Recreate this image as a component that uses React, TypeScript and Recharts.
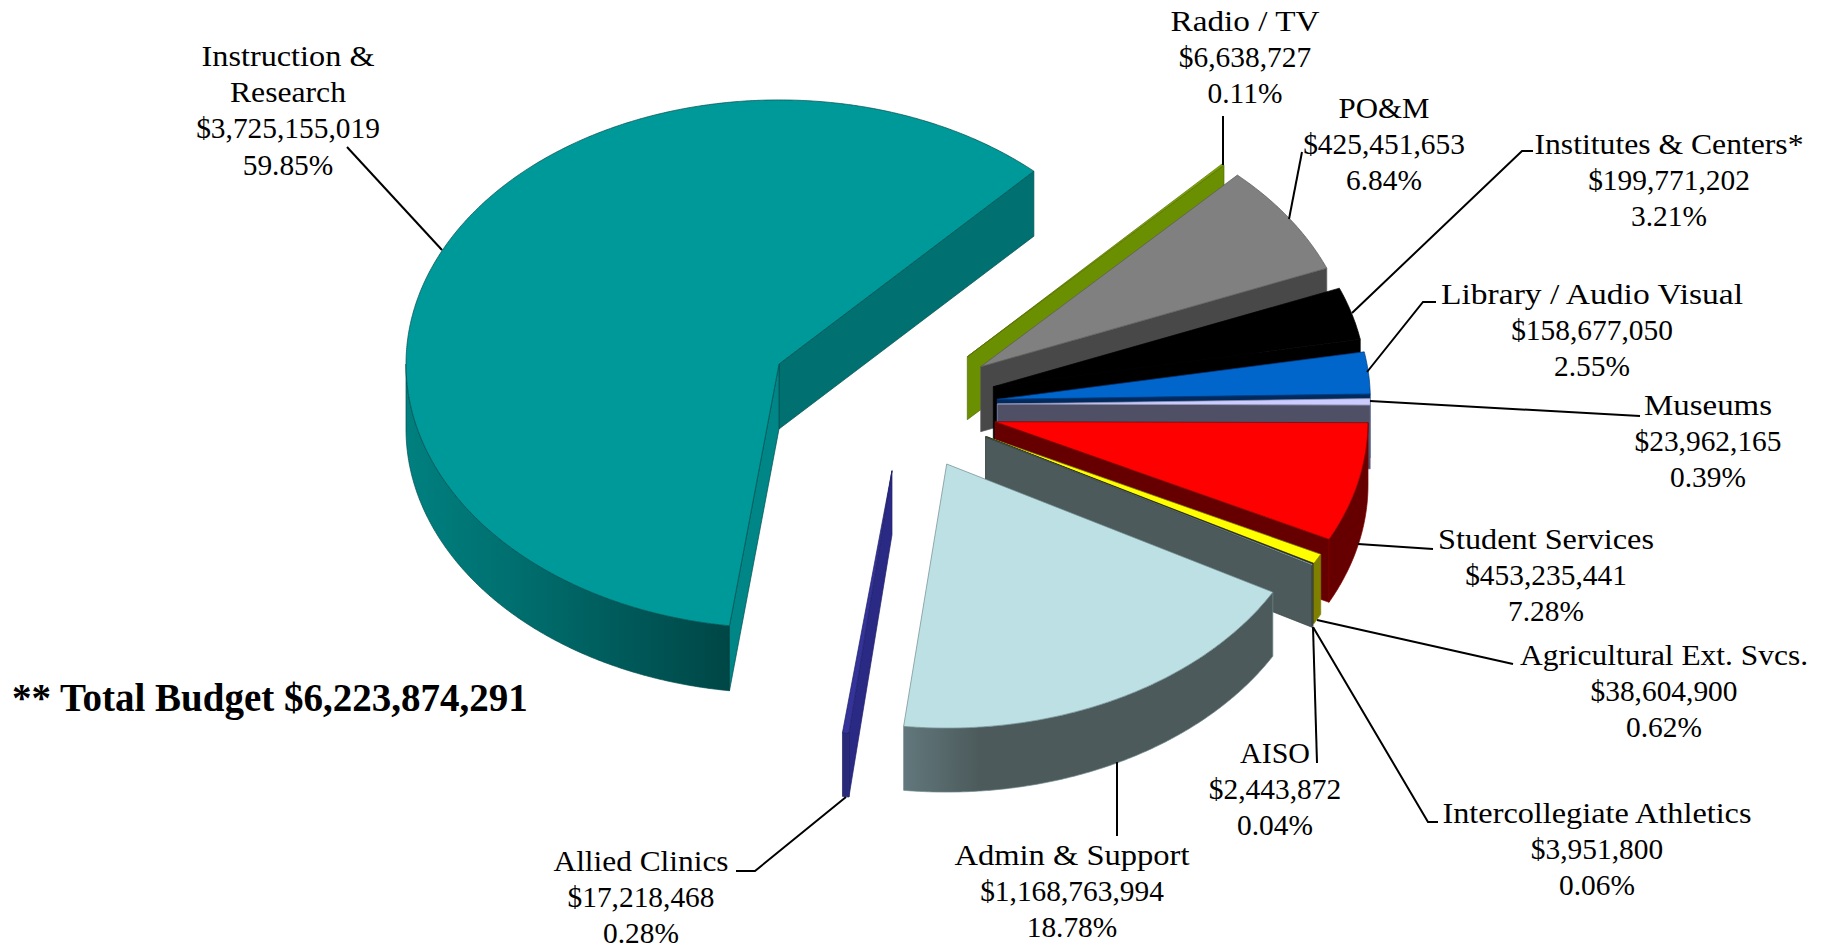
import React from "react";
import { PieChart, Pie } from "recharts";

// budget categories, in the order they run clockwise round the pie
const categories = [
  "Radio / TV",
  "PO&M",
  "Institutes & Centers*",
  "Library / Audio Visual",
  "Museums",
  "Student Services",
  "Agricultural Ext. Svcs.",
  "AISO",
  "Intercollegiate Athletics",
  "Admin & Support",
  "Allied Clinics",
  "Instruction & Research",
];
const amounts = [
  6638727, 425451653, 199771202, 158677050, 23962165, 453235441, 38604900,
  2443872, 3951800, 1168763994, 17218468, 3725155019,
];
const percents = [
  "0.11%", "6.84%", "3.21%", "2.55%", "0.39%", "7.28%", "0.62%", "0.04%",
  "0.06%", "18.78%", "0.28%", "59.85%",
];
const totalLabel = "** Total Budget $6,223,874,291";

const rows = categories.map((name, i) => ({ name, value: amounts[i] }));

// look of each slice
const topColors = ["#7ba600", "#808080", "#000000", "#0066cc", "#ccccff", "#ff0000", "#ffff00", "#3a3a20", "#bde0e4", "#bde0e4", "#333399", "#009999"];
const wallColors = ["#6a8f00", "#484848", "#000000", "#002a5c", "#4f4f66", "#660000", "#808000", "#333333", "#4c5a5b", "#4c5a5b", "#29297a", "#007070"];
const startWallColors: Record<number, string> = { 10: "#2a2a85", 11: "#008686" };
const edgeColors = ["#566f00", "#5a5a5a", "#000000", "#003a80", "#9090b0", "#800000", "#808000", "#222222", "#3c4848", "#6f8a8d", "#20206a", "#004f4f"];

// how far each slice is pulled out of the pie, and its projection
const explodeX = [188.3, 201.7, 214.3, 218.3, 218.3, 216, 207.7, 206.7, 206.7, 167.7, 113, 0];
const explodeY = [-7.3, 2.7, 22.7, 35.3, 40, 57.7, 72.7, 72.7, 73, 100, 106.7, 0];
const squash = 0.708;
const depth = [63, 65, 64, 64, 64, 63, 60, 62, 62, 64, 64, 65];

// label placement: centre x, centre y of first line, stretched width of the name lines
const labelX = [1245, 1384, 1669, 1592, 1708, 1546, 1664, 1275, 1597, 1072, 641, 288];
const labelY = [22, 109, 145, 295, 406, 540, 656, 754, 814, 856, 862, 57];
const nameWidths: Record<string, number> = {
  "Radio / TV": 149,
  "PO&M": 91,
  "Institutes & Centers*": 269,
  "Library / Audio Visual": 302,
  Museums: 128,
  "Student Services": 216,
  "Agricultural Ext. Svcs.": 288,
  AISO: 70,
  "Intercollegiate Athletics": 309,
  "Admin & Support": 235,
  "Allied Clinics": 175,
  "Instruction &": 173,
  Research: 116,
};
const lineGap = 36.2;

const leaders: [number, number][][] = [
  [[1223, 116], [1223, 165]],
  [[1302, 152], [1289, 219]],
  [[1533, 151], [1522, 151], [1352, 313]],
  [[1436, 302], [1423, 302], [1367, 372]],
  [[1370, 401], [1640, 416]],
  [[1358, 544], [1433, 549]],
  [[1317, 620], [1513, 664]],
  [[1313, 627], [1317, 763]],
  [[1313, 627], [1428, 822], [1438, 822]],
  [[1117, 762], [1117, 836]],
  [[846, 797], [755, 871], [736, 871]],
  [[347, 147], [442, 250]],
];

const FONT = "'Liberation Serif', serif";

const onEllipse = (cx: number, cy: number, rx: number, ry: number, deg: number) => {
  const a = (deg * Math.PI) / 180;
  return [cx + rx * Math.cos(a), cy - ry * Math.sin(a)];
};

const toPath = (pts: number[][]) =>
  pts.map((p, i) => `${i === 0 ? "M" : "L"}${p[0].toFixed(2)},${p[1].toFixed(2)}`).join("") + "Z";

// Recharts hands over the sector angles, we project them to a tilted, extruded slice
const SliceShape = (props: any) => {
  const { cx, cy, outerRadius, startAngle, endAngle, name } = props;
  const i = categories.indexOf(name);
  const ox = cx + explodeX[i];
  const oy = cy + explodeY[i];
  const rx = outerRadius;
  const ry = outerRadius * squash;
  const h = depth[i];
  const cosOf = (d: number) => Math.cos((d * Math.PI) / 180);
  const sinOf = (d: number) => Math.sin((d * Math.PI) / 180);

  const steps = Math.max(6, Math.ceil(Math.abs(endAngle - startAngle) / 0.4));
  const angles: number[] = [];
  for (let s = 0; s <= steps; s++) angles.push(startAngle + ((endAngle - startAngle) * s) / steps);
  const arc = angles.map((a) => onEllipse(ox, oy, rx, ry, a));

  const lower = angles.filter((a) => sinOf(a) < 0.0001).map((a) => onEllipse(ox, oy, rx, ry, a));
  const sE = onEllipse(ox, oy, rx, ry, startAngle);
  const eE = onEllipse(ox, oy, rx, ry, endAngle);
  const wall = (p: number[]) => toPath([[ox, oy], p, [p[0], p[1] + h], [ox, oy + h]]);
  const edge = { stroke: edgeColors[i], strokeWidth: 0.7, strokeLinejoin: "round" as const };

  let outerFill = wallColors[i];
  let gradient = null;
  if (name === "Instruction & Research") {
    outerFill = "url(#wall-teal)";
    gradient = (
      <linearGradient id="wall-teal" gradientUnits="userSpaceOnUse" x1={405} y1={0} x2={730} y2={0}>
        <stop offset="0" stopColor="#008080" />
        <stop offset="0.35" stopColor="#006e6e" />
        <stop offset="0.7" stopColor="#005858" />
        <stop offset="1" stopColor="#004646" />
      </linearGradient>
    );
  } else if (name === "Admin & Support") {
    outerFill = "url(#wall-admin)";
    gradient = (
      <linearGradient id="wall-admin" gradientUnits="userSpaceOnUse" x1={903} y1={0} x2={980} y2={0}>
        <stop offset="0" stopColor="#62787c" />
        <stop offset="1" stopColor="#4c5a5b" />
      </linearGradient>
    );
  }

  return (
    <g>
      {gradient && <defs>{gradient}</defs>}
      {cosOf(endAngle) > 0 && <path d={wall(eE)} fill={wallColors[i]} {...edge} />}
      {cosOf(startAngle) < 0 && <path d={wall(sE)} fill={startWallColors[i] ?? wallColors[i]} {...edge} />}
      {lower.length > 1 && (
        <path
          d={toPath([...lower, ...[...lower].reverse().map((p) => [p[0], p[1] + h])])}
          fill={outerFill}
          {...edge}
        />
      )}
      <path d={toPath([[ox, oy], ...arc])} fill={topColors[i]} {...edge} />
    </g>
  );
};

const splitName = (name: string) => (name === "Instruction & Research" ? ["Instruction &", "Research"] : [name]);

const SliceLabel = (props: any) => {
  const i = categories.indexOf(props.name);
  const lines = [...splitName(props.name), "$" + amounts[i].toLocaleString("en-US"), percents[i]];
  return (
    <g>
      <polyline
        points={leaders[i].map((p) => p.join(",")).join(" ")}
        fill="none"
        stroke="#000000"
        strokeWidth={2}
      />
      {lines.map((line, n) => {
        const stretch = nameWidths[line] ? { textLength: nameWidths[line], lengthAdjust: "spacingAndGlyphs" } : {};
        return (
          <text
            key={n}
            x={labelX[i]}
            y={labelY[i] + n * lineGap + 9}
            textAnchor="middle"
            fontFamily={FONT}
            fontSize={29.4}
            fill="#000000"
            {...stretch}
          >
            {line}
          </text>
        );
      })}
    </g>
  );
};

export default function App() {
  return (
    <div style={{ position: "absolute", left: 0, top: 0, width: 1821, height: 948, background: "#ffffff" }}>
      <PieChart width={1821} height={948} margin={{ top: 0, right: 0, bottom: 0, left: 0 }}>
        <Pie
          data={rows}
          dataKey="value"
          nameKey="name"
          cx={779}
          cy={364}
          innerRadius={0}
          outerRadius={373}
          startAngle={46.9}
          endAngle={-313.1}
          paddingAngle={0}
          stroke="none"
          isAnimationActive={false}
          shape={SliceShape}
          label={SliceLabel}
          labelLine={false}
        />
        <text x={12} y={711} fontFamily={FONT} fontSize={39} fontWeight="bold" fill="#000000">
          {totalLabel}
        </text>
      </PieChart>
    </div>
  );
}
